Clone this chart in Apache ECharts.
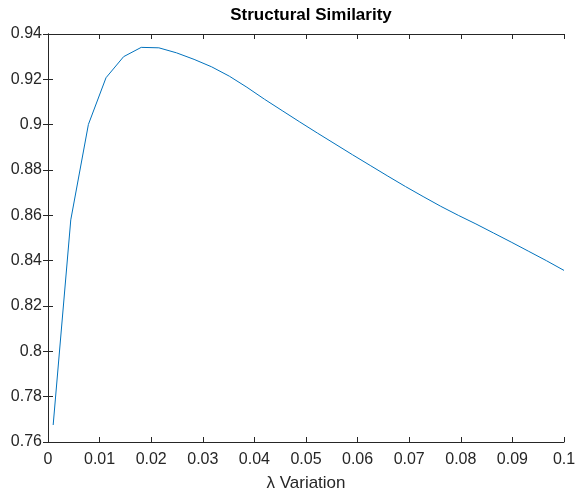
<!DOCTYPE html>
<html>
<head>
<meta charset="utf-8">
<script src="https://cdn.jsdelivr.net/npm/echarts@6/dist/echarts.min.js"></script>
<style>
  html, body { margin: 0; padding: 0; background: #fff; }
  #chart { width: 576px; height: 490px; }
</style>
</head>
<body>
<div id="chart"></div>
<script>
// lambda values (linspace 0.001 .. 0.1, 30 points)
const lambdaVals = [
  0.001, 0.004414, 0.007828, 0.011241, 0.014655, 0.018069, 0.021483, 0.024897,
  0.02831, 0.031724, 0.035138, 0.038552, 0.041966, 0.045379, 0.048793, 0.052207,
  0.055621, 0.059034, 0.062448, 0.065862, 0.069276, 0.07269, 0.076103, 0.079517,
  0.082931, 0.086345, 0.089759, 0.093172, 0.096586, 0.1
];
// structural similarity
const ssimVals = [
  0.7675, 0.858, 0.9001, 0.9207, 0.93, 0.9341, 0.9339, 0.9317,
  0.9288, 0.9255, 0.9214, 0.9165, 0.9112, 0.9062, 0.9012, 0.8963,
  0.8915, 0.8867, 0.882, 0.8773, 0.8727, 0.8683, 0.864, 0.86,
  0.8562, 0.8522, 0.8482, 0.8441, 0.84, 0.8357
];

const axisColor = '#262626';
const fontFam = '"Liberation Sans", Arial, sans-serif';

const chart = echarts.init(document.getElementById('chart'), null, { renderer: 'canvas' });

// inward ticks, like matlab
const tickCommon = { show: true, inside: true, length: 5, lineStyle: { color: axisColor, width: 1 } };

const option = {
  animation: false,
  title: {
    text: 'Structural Similarity',
    left: 306,
    textAlign: 'center',
    top: 2,
    textStyle: { fontFamily: fontFam, fontSize: 17, fontWeight: 'bold', color: '#000' }
  },
  grid: { left: 48, right: 12, top: 34, bottom: 48, containLabel: false, outerBoundsMode: 'none' },
  xAxis: [{
    type: 'value',
    min: 0, max: 0.1, interval: 0.01,
    name: 'λ Variation',
    nameLocation: 'middle',
    nameGap: 33,
    nameTextStyle: { fontFamily: fontFam, fontSize: 17, color: axisColor },
    axisLine: { lineStyle: { color: axisColor, width: 1 } },
    axisTick: tickCommon,
    axisLabel: { fontFamily: fontFam, fontSize: 16, color: axisColor, margin: 10 },
    splitLine: { show: false }
  }, {
    type: 'value',
    position: 'top',
    min: 0, max: 0.1, interval: 0.01,
    axisLine: { show: true, lineStyle: { color: axisColor, width: 1 } },
    axisTick: tickCommon,
    axisLabel: { show: false },
    splitLine: { show: false }
  }],
  yAxis: [{
    type: 'value',
    min: 0.76, max: 0.94, interval: 0.02,
    axisLine: { show: true, lineStyle: { color: axisColor, width: 1 } },
    axisTick: tickCommon,
    axisLabel: { fontFamily: fontFam, fontSize: 16, color: axisColor, margin: 6 },
    splitLine: { show: false }
  }, {
    type: 'value',
    position: 'right',
    min: 0.76, max: 0.94, interval: 0.02,
    axisLine: { show: true, lineStyle: { color: axisColor, width: 1 } },
    axisTick: tickCommon,
    axisLabel: { show: false },
    splitLine: { show: false }
  }],
  series: [{
    type: 'line',
    xAxisIndex: 0,
    yAxisIndex: 0,
    data: lambdaVals.map((x, i) => [x, ssimVals[i]]),
    showSymbol: false,
    lineStyle: { color: '#0072BD', width: 1 },
    itemStyle: { color: '#0072BD' }
  }]
};

chart.setOption(option);
</script>
</body>
</html>
